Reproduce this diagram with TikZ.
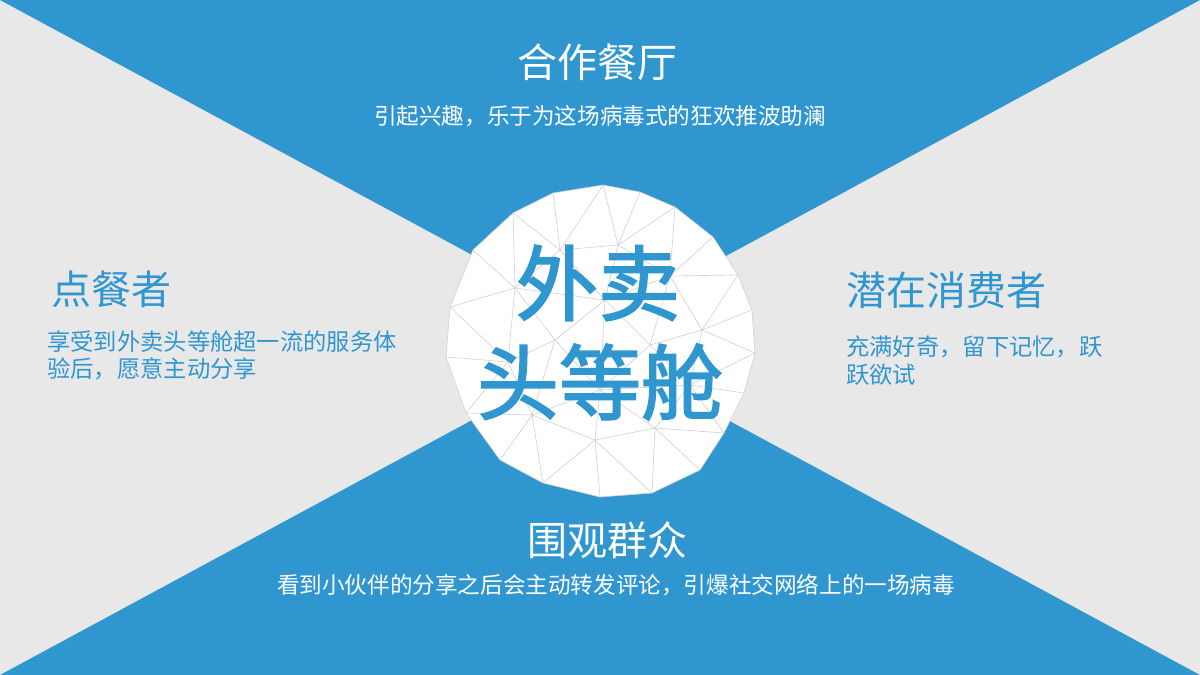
\documentclass[tikz,border=0pt]{standalone}
\usepackage{fontspec}
\setmainfont{Noto Sans CJK SC}
\newcommand{\heavytext}[1]{\special{pdf:literal 2 Tr 1.8 w}#1\special{pdf:literal 0 Tr 0.4 w}}
\definecolor{bblue}{HTML}{3096D0}
\definecolor{bgray}{HTML}{E8E8E8}
\definecolor{meshc}{HTML}{D0D0D0}
\begin{document}
\begin{tikzpicture}[x=1pt,y=-1pt,
  title/.style={inner sep=0pt,font=\fontsize{40}{48}\selectfont},
  body/.style={inner sep=0pt,font=\fontsize{22.6}{26}\selectfont},
  sidebody/.style={inner sep=0pt,text=bblue,anchor=west,font=\fontsize{23.3}{27}\selectfont},
  big/.style={inner sep=0pt,text=bblue,font=\fontsize{82}{96}\selectfont},
  meshline/.style={draw=meshc,line width=0.6pt}]
\useasboundingbox (0,0) rectangle (1200,675);
\fill[bgray] (0,0) rectangle (1200,675);
\fill[bblue] (0,0) -- (1200,0) -- (600,324) -- cycle;
\fill[bblue] (0,675) -- (1200,675) -- (600,351) -- cycle;
% polygon boundary
\foreach \n/\p in {1/{603,185},2/{640,192},3/{675,207},4/{713,237},5/{738,275},6/{752,310},7/{755,353},8/{744,393},9/{724,433},10/{700,470},11/{652,493},12/{600,497},13/{543,483},14/{500,460},15/{466,413},16/{446,357},17/{450,307},18/{473,250},19/{513,213},20/{553,193}}
  \coordinate (B\n) at (\p);
\coordinate (B21) at (B1);
\foreach \n/\p in {1/{618,245},2/{670,276},3/{702,330},4/{690,385},5/{655,428},6/{595,440},7/{532,415},8/{508,362},9/{515,288},10/{560,250}}
  \coordinate (M\n) at (\p);
\coordinate (M11) at (M1);
\coordinate (C1) at (605,300);
\coordinate (C2) at (650,345);
\coordinate (C3) at (600,390);
\coordinate (C4) at (555,340);
\fill[white] (B1) \foreach \n in {2,...,20}{-- (B\n)} -- cycle;
\foreach \j in {1,...,10}{
  \pgfmathtruncatemacro{\a}{2*\j-1}
  \pgfmathtruncatemacro{\b}{2*\j}
  \pgfmathtruncatemacro{\c}{2*\j+1}
  \pgfmathtruncatemacro{\k}{\j+1}
  \draw[meshline] (B\a) -- (M\j) -- (B\b);
  \draw[meshline] (M\j) -- (B\c);
  \draw[meshline] (M\j) -- (M\k);
}
\foreach \u/\v in {M1/C1,M2/C1,M2/C2,M3/C2,M4/C2,M4/C3,M5/C3,M6/C3,M7/C3,M7/C4,M8/C4,M9/C4,M9/C1,M10/C1,C1/C2,C2/C3,C3/C4,C4/C1,C1/C3}
  \draw[meshline] (\u) -- (\v);
\draw[meshline] (B1) \foreach \n in {2,...,20}{-- (B\n)} -- cycle;
% texts
\node[title,text=white] (t1) at (597,62) {合作餐厅};
\node[body,text=white] (s1) at (600,116) {引起兴趣，乐于为这场病毒式的狂欢推波助澜};
\node[title,text=bblue,anchor=west] (t2) at (51,289) {点餐者};
\node[sidebody] (s2a) at (47,342) {享受到外卖头等舱超一流的服务体};
\node[sidebody] (s2b) at (47,369) {验后，愿意主动分享};
\node[title,text=bblue,anchor=west] (t3) at (846,290) {潜在消费者};
\node[sidebody] (s3a) at (846,347) {充满好奇，留下记忆，跃};
\node[sidebody] (s3b) at (846,375) {跃欲试};
\node[title,text=white] (t4) at (607,540) {围观群众};
\node[body,text=white] (s4) at (616,585) {看到小伙伴的分享之后会主动转发评论，引爆社交网络上的一场病毒};
\node[big] (c1) at (598,283) {\heavytext{外卖}};
\node[big] (c2) at (600,382) {\heavytext{头等舱}};
\end{tikzpicture}
\end{document}
